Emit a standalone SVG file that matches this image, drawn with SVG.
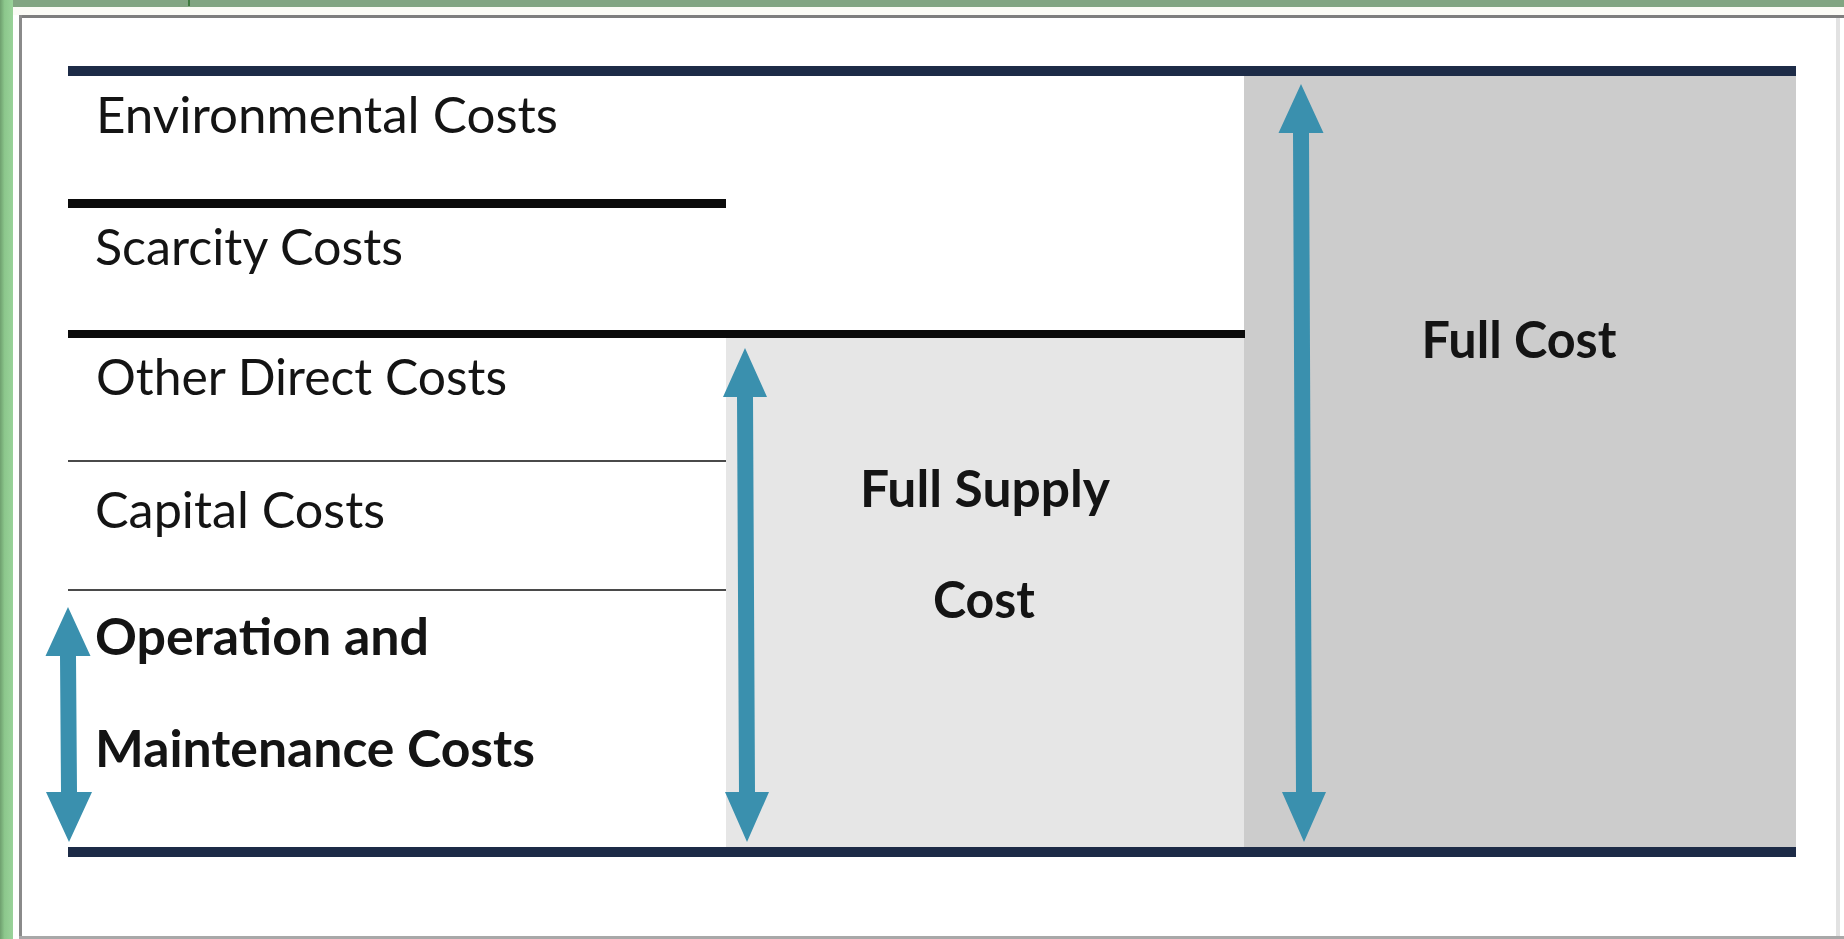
<svg xmlns="http://www.w3.org/2000/svg" width="1844" height="939" viewBox="0 0 1844 939">
  <defs>
    <linearGradient id="leftGreen" x1="0" y1="0" x2="1" y2="0">
      <stop offset="0" stop-color="#6e9f6e"/>
      <stop offset="0.35" stop-color="#8cc78c"/>
      <stop offset="1" stop-color="#9ad39a"/>
    </linearGradient>
    <style>
      .lbl { font-family: Lato, "Open Sans", "Liberation Sans", sans-serif; font-size: 50px; fill: #141414; }
      .bold { font-weight: bold; font-size: 51px; }
      .navy { fill: #1d2b47; }
      .heavy { fill: #0b0b0b; }
      .thin { fill: #4a4a4a; }
      .arrow { fill: #3a90ae; }
    </style>
  </defs>

  <!-- picture frame -->
  <g id="frame">
    <rect x="0" y="0" width="1844" height="939" fill="#ffffff"/>
    <rect x="0" y="0" width="1844" height="7" fill="#82a582"/>
    <rect x="0" y="0" width="13" height="939" fill="url(#leftGreen)"/>
    <rect x="188" y="0" width="2" height="6" fill="#3f7a3f"/>
    <rect x="13" y="7" width="1831" height="8" fill="#fbfbf6"/>
    <rect x="19" y="15" width="1825" height="3" fill="#7e7e7e"/>
    <rect x="19" y="15" width="3" height="922" fill="#8a8a8a"/>
    <rect x="19" y="936" width="1825" height="3" fill="#a8a8a8"/>
    <rect x="1836" y="18" width="4" height="918" fill="#e2e2e2"/>
  </g>

  <!-- shaded cost areas -->
  <g id="full-supply-area">
    <rect x="726" y="336" width="518" height="511" fill="#e6e6e6"/>
  </g>
  <g id="full-cost-area">
    <rect x="1244" y="75" width="552" height="772" fill="#cccccc"/>
  </g>

  <!-- rules between the cost layers -->
  <g id="rules">
    <rect class="navy" x="68" y="66" width="1728" height="10"/>
    <rect class="heavy" x="68" y="199" width="658" height="9"/>
    <rect class="heavy" x="68" y="330" width="1177" height="8"/>
    <rect class="thin" x="68" y="460" width="658" height="2"/>
    <rect class="thin" x="68" y="589" width="658" height="2"/>
    <rect class="navy" x="68" y="847" width="1728" height="10"/>
  </g>

  <!-- layer labels -->
  <g id="environmental-costs">
    <text class="lbl" x="96" y="133" textLength="462" lengthAdjust="spacingAndGlyphs">Environmental Costs</text>
  </g>
  <g id="scarcity-costs">
    <text class="lbl" x="95" y="265" textLength="308" lengthAdjust="spacingAndGlyphs">Scarcity Costs</text>
  </g>
  <g id="other-direct-costs">
    <text class="lbl" x="96" y="395" textLength="411" lengthAdjust="spacingAndGlyphs">Other Direct Costs</text>
  </g>
  <g id="capital-costs">
    <text class="lbl" x="95" y="528" textLength="290" lengthAdjust="spacingAndGlyphs">Capital Costs</text>
  </g>
  <g id="operation-maintenance-costs">
    <text class="lbl bold" x="95" y="655" textLength="334" lengthAdjust="spacingAndGlyphs">Operation and</text>
    <text class="lbl bold" x="95" y="767" textLength="440" lengthAdjust="spacingAndGlyphs">Maintenance Costs</text>
  </g>
  <g id="full-supply-cost">
    <text class="lbl bold" x="985" y="507" text-anchor="middle" textLength="250" lengthAdjust="spacingAndGlyphs">Full Supply</text>
    <text class="lbl bold" x="984" y="618" text-anchor="middle" textLength="102" lengthAdjust="spacingAndGlyphs">Cost</text>
  </g>
  <g id="full-cost">
    <text class="lbl bold" x="1519" y="358" text-anchor="middle" textLength="195" lengthAdjust="spacingAndGlyphs">Full Cost</text>
  </g>

  <!-- double-headed span arrows -->
  <g id="connectors">
    <path class="arrow" d="M68,607 L90.5,656 L76,656 L77,792 L92,792 L69,842 L46,792 L61,792 L60,656 L45.5,656 Z"/>
    <path class="arrow" d="M745,348 L767,397 L753,397 L755,792 L769,792 L747,842 L725,792 L739,792 L737,397 L723,397 Z"/>
    <path class="arrow" d="M1301,84 L1323.5,133 L1309,133 L1312,792 L1326,792 L1304,842 L1282,792 L1296,792 L1293,133 L1278.5,133 Z"/>
  </g>
</svg>
